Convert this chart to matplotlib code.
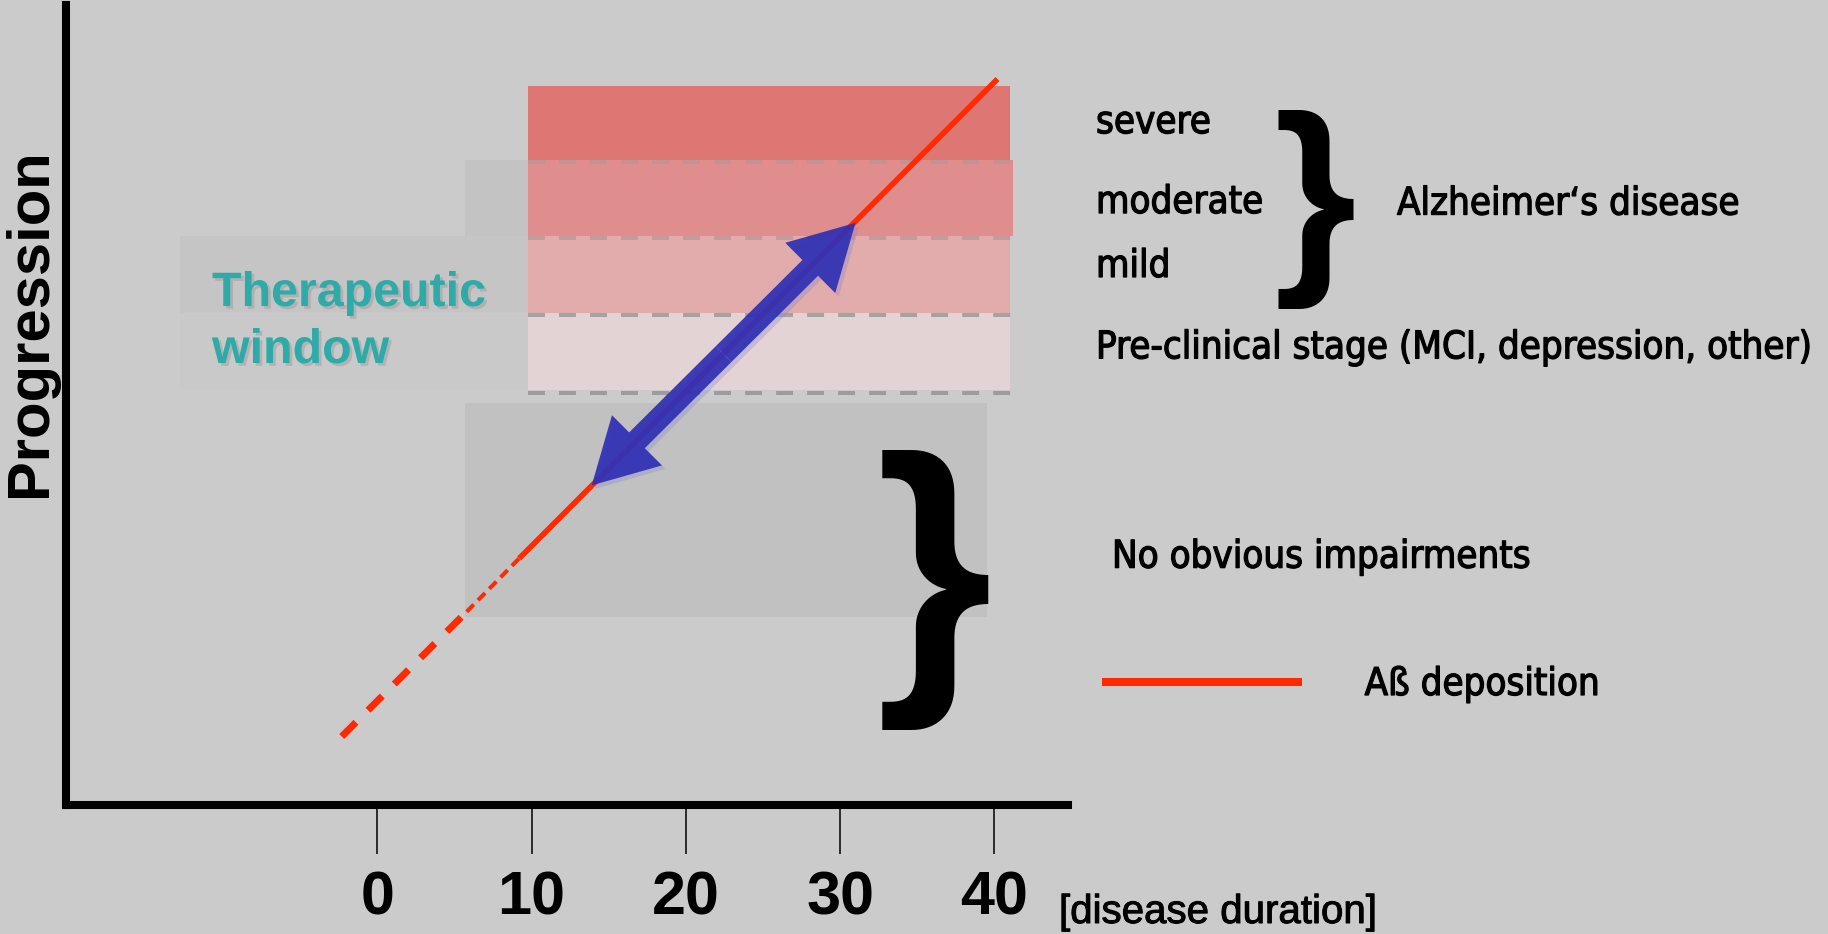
import matplotlib
matplotlib.use("Agg")
import matplotlib.pyplot as plt
from matplotlib import font_manager as fm
from matplotlib.font_manager import FontProperties
from matplotlib.patches import Rectangle, FancyArrowPatch, ArrowStyle
from matplotlib.lines import Line2D
import matplotlib.transforms as mtransforms
import matplotlib.patheffects as pe

# ---------------- data ----------------
duration_ticks = [0, 10, 20, 30, 40]
duration_labels = ["0", "10", "20", "30", "40"]

band_labels = ["severe", "moderate", "mild", "Pre-clinical stage (MCI, depression, other)"]
band_bottom = [8.48, 7.48, 6.47, 5.45]
band_top = [9.45, 8.48, 7.48, 6.47]
band_start = [9.8, 9.8, 9.8, 9.8]
band_end = [41.0, 41.2, 41.0, 41.0]
band_colors = ["#de7674", "#e08d8e", "#e2abac", "#e4d3d5"]
band_ext_start = [None, 5.7, -12.8, -12.8]
band_ext_colors = [None, "#c3c3c3", "#c5c5c5", "#c9c9c9"]
dash_levels = [8.45, 7.45, 6.44, 5.41]
dash_colors = ["#bf9494", "#c49b9b", "#a3a3a3", "#9c9c9c"]

no_obvious_years = [5.7, 39.5]
no_obvious_levels = [2.47, 5.28]

ab_years = [-2.3, 5.8, 9.2, 40.2]
ab_levels = [0.90, 2.54, 3.24, 9.54]

window_years = [13.9, 31.0]
window_levels = [4.20, 7.65]

# ---------------- fonts ----------------
flist = fm.fontManager.ttflist
has_narrow = any(f.name == "Liberation Sans Narrow" for f in flist)
has_cond = any(f.name == "DejaVu Sans" and f.stretch == "condensed" for f in flist)

if has_cond:
    fp_txt = FontProperties(family="DejaVu Sans", stretch="condensed", size=27.5)
else:
    fp_txt = FontProperties(family="DejaVu Sans", size=25)
if has_narrow:
    fp_dur = FontProperties(family="Liberation Sans Narrow", size=35)
else:
    fp_dur = FontProperties(family="Liberation Sans", size=29)
fp_num = FontProperties(family="Liberation Sans", weight="bold", size=44)
fp_prog = FontProperties(family="Liberation Sans", weight="bold", size=43)
fp_win = FontProperties(family="Liberation Sans", weight="bold", size=34.8)
fp_brace = "Liberation Sans"
heavy = [pe.withStroke(linewidth=0.9, foreground="black")]

BG = "#cbcbcb"
RED = "#ff2a00"
BLUE = "#2f2fb4"
TEAL = "#2eaaa9"

W, H = 1828, 934
fig = plt.figure(figsize=(W / 100, H / 100), dpi=100, facecolor=BG)

# axes frame (pixel calibration of the drawing)
ax_left, ax_right, ax_top, ax_bottom = 66, 1068, 5, 805
ax = fig.add_axes([ax_left / W, (H - ax_bottom) / H,
                   (ax_right - ax_left) / W, (ax_bottom - ax_top) / H])
ax.set_facecolor("none")
x0_px, px_per_year = 377.2, 15.43
px_per_level = 76.1
ax.set_xlim((ax_left - x0_px) / px_per_year, (ax_right - x0_px) / px_per_year)
ax.set_ylim(0, (ax_bottom - ax_top) / px_per_level)

for s in ["top", "right"]:
    ax.spines[s].set_visible(False)
for s in ["left", "bottom"]:
    ax.spines[s].set_linewidth(5.8)
    ax.spines[s].set_color("black")

ax.set_yticks([])
ax.set_xticks(duration_ticks, labels=duration_labels, fontproperties=fp_num)
ax.tick_params(axis="x", length=35, width=1.1, pad=12, direction="out", color="black")

ax.set_ylabel("Progression", fontproperties=fp_prog)
ax.yaxis.set_label_coords(-0.035, 0.603)
ax.yaxis.label.set_va("center")
ax.yaxis.label.set_rotation_mode("default")

# bands
for i in range(len(band_labels)):
    if band_ext_start[i] is not None:
        ax.add_patch(Rectangle((band_ext_start[i], band_bottom[i]),
                               band_start[i] - band_ext_start[i],
                               band_top[i] - band_bottom[i],
                               facecolor=band_ext_colors[i], edgecolor="none", zorder=1))
    ax.add_patch(Rectangle((band_start[i], band_bottom[i]),
                           band_end[i] - band_start[i],
                           band_top[i] - band_bottom[i],
                           facecolor=band_colors[i], edgecolor="none", zorder=1.2))
for lvl, c in zip(dash_levels, dash_colors):
    ax.plot([band_start[0], max(band_end)], [lvl, lvl], color=c, lw=2.9,
            dashes=(4.2, 3.5), zorder=2, solid_capstyle="butt")

ax.add_patch(Rectangle((no_obvious_years[0], no_obvious_levels[0]),
                       no_obvious_years[1] - no_obvious_years[0],
                       no_obvious_levels[1] - no_obvious_levels[0],
                       facecolor="#c1c1c1", edgecolor="none", zorder=1))

# A-beta deposition line
ax.plot(ab_years[0:2], ab_levels[0:2], color=RED, lw=5, dashes=(2.9, 2.45), zorder=3)
ax.plot(ab_years[1:3], ab_levels[1:3], color=RED, lw=2.9, dashes=(2.5, 1.5), zorder=3)
ax.plot(ab_years[2:4], ab_levels[2:4], color=RED, lw=4, zorder=3, solid_capstyle="butt")

# therapeutic window double arrow
mid = ((window_years[0] + window_years[1]) / 2, (window_levels[0] + window_levels[1]) / 2)
style = ArrowStyle.Simple(head_length=46, head_width=51, tail_width=16)
for end in [(window_years[0], window_levels[0]), (window_years[1], window_levels[1])]:
    ax.add_patch(FancyArrowPatch(mid, end, arrowstyle=style, mutation_scale=1,
                                 shrinkA=0, shrinkB=0, color=BLUE, lw=0, alpha=0.92,
                                 zorder=4,
                                 path_effects=[pe.withSimplePatchShadow(offset=(2.5, -2.5),
                                                                        shadow_rgbFace="#8a8ac8",
                                                                        alpha=0.35)]))

shadow = [pe.withSimplePatchShadow(offset=(2, -2), shadow_rgbFace="#808080", alpha=0.3)]
tx = (212 - x0_px) / px_per_year
ax.text(tx, 6.557, "Therapeutic", color=TEAL, fontproperties=fp_win,
        ha="left", va="baseline", zorder=5, path_effects=shadow)
ax.text(tx, 5.808, "window", color=TEAL, fontproperties=fp_win,
        ha="left", va="baseline", zorder=5, path_effects=shadow)

# right-hand annotations
trans = mtransforms.blended_transform_factory(fig.transFigure, ax.transData)
label_levels = [8.96, 7.91, 7.07, 6.00]
for lab, y in zip(band_labels, label_levels):
    ax.text(1096 / W, y, lab, transform=trans, fontproperties=fp_txt,
            ha="left", va="center", color="black", path_effects=heavy)
ax.text(1397 / W, 7.89, "Alzheimer\u2018s disease", transform=trans,
        fontproperties=fp_txt, ha="left", va="center", color="black", path_effects=heavy)
ax.text(1112 / W, 3.25, "No obvious impairments", transform=trans,
        fontproperties=fp_txt, ha="left", va="center", color="black", path_effects=heavy)

# braces
ax.text(1315 / W, 7.83, "}", transform=trans, family=fp_brace, weight="bold",
        size=153, ha="center", va="center", color="black", zorder=6)
ax.text(934 / W, 2.83, "}", transform=trans, family=fp_brace, weight="bold",
        size=216, ha="center", va="center", color="black", zorder=6)

# x-axis unit
fig.text(1059 / W, (H - 923) / H, "[disease duration]", fontproperties=fp_dur,
         ha="left", va="baseline", color="black",
         path_effects=[pe.withStroke(linewidth=0.7, foreground="black")])

# legend
legend_fs_px = fp_txt.get_size_in_points() * 100 / 72
proxy = Line2D([], [], color=RED, lw=5.8)
leg = fig.legend([proxy], ["A\u00df deposition"], loc="center left",
                 bbox_to_anchor=(1105.6 / W, (H - 685) / H), frameon=False,
                 borderpad=0, borderaxespad=0, prop=fp_txt,
                 handlelength=192 / legend_fs_px, handletextpad=67 / legend_fs_px)
for t in leg.get_texts():
    t.set_path_effects(heavy)

fig.savefig("out.png", dpi=100, facecolor=BG)
